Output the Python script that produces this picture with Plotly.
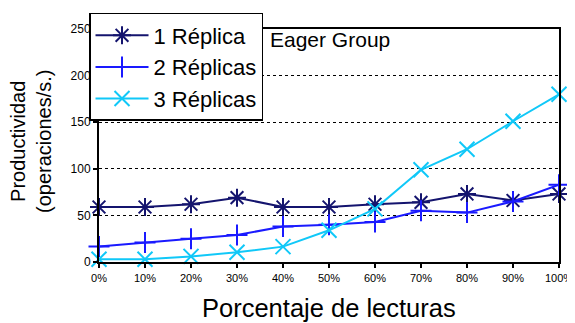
import plotly.graph_objects as go

pct = [0, 10, 20, 30, 40, 50, 60, 70, 80, 90, 100]
pct_labels = ["0%", "10%", "20%", "30%", "40%", "50%", "60%", "70%", "80%", "90%", "100%"]
rep1 = [59, 59, 62, 69, 59, 59, 62, 64, 73, 66, 73]
rep2 = [16.5, 21, 25, 29, 38, 40, 43, 55, 53, 65, 83]
rep3 = [3, 3, 6, 10.5, 16.5, 34, 57, 99, 121, 151, 180]
y_ticks = [0, 50, 100, 150, 200, 250]

FONT = "Liberation Sans, Arial, sans-serif"

fig = go.Figure()
series = [
    ("1 Réplica", rep1, "#14146e", "asterisk-open", 15),
    ("2 Réplicas", rep2, "#1a1aff", "cross-thin-open", 15),
    ("3 Réplicas", rep3, "#10c8f8", "x-thin-open", 15),
]
for name, ys, col, sym, sz in series:
    fig.add_trace(go.Scatter(
        x=pct, y=ys, name=name, mode="lines+markers",
        line=dict(color=col, width=2),
        marker=dict(symbol=sym, size=sz, color=col, line=dict(color=col, width=2)),
        cliponaxis=False,
    ))

# page body adds an 8px offset, so the figure is 8px smaller on each axis
fig.update_layout(
    width=567, height=315,
    margin=dict(l=91, r=16, t=21, b=61, autoexpand=False),
    paper_bgcolor="white", plot_bgcolor="white",
    font=dict(family=FONT, color="black"),
    showlegend=True,
    legend=dict(
        x=-0.0217, y=1.0687, xanchor="left", yanchor="top",
        bgcolor="white", bordercolor="black", borderwidth=1.5,
        font=dict(size=22, family=FONT),
        tracegroupgap=0, itemwidth=53,
    ),
)
fig.update_xaxes(
    range=[0, 100], tickvals=pct, ticktext=pct_labels,
    tickfont=dict(size=11), showgrid=False, zeroline=False,
    showline=True, linecolor="black", linewidth=2, mirror=True,
    ticks="outside", ticklen=4, tickwidth=1.5, tickcolor="black",
    ticklabelstandoff=1,
)
fig.update_yaxes(
    range=[0, 250], tickvals=y_ticks, tickfont=dict(size=12),
    showgrid=True, gridcolor="black", gridwidth=1, griddash="dot",
    zeroline=False, showline=True, linecolor="black", linewidth=2, mirror=True,
    ticks="outside", ticklen=4, tickwidth=1.5, tickcolor="black",
)
fig.add_annotation(
    text="Eager Group", xref="paper", yref="paper", x=0.367, y=0.953,
    xanchor="left", yanchor="middle", showarrow=False,
    font=dict(size=21, family=FONT),
)
fig.add_annotation(
    text="Productividad<br>(operaciones/s.)", xref="paper", yref="paper",
    x=-0.148, y=0.519, xanchor="center", yanchor="middle", textangle=-90,
    showarrow=False, font=dict(size=20, family=FONT),
)
fig.add_annotation(
    text="Porcentaje de lecturas", xref="paper", yref="paper",
    x=0.5, y=-0.197, xanchor="center", yanchor="middle",
    showarrow=False, font=dict(size=25.5, family=FONT),
)
fig.write_html("out.html")
